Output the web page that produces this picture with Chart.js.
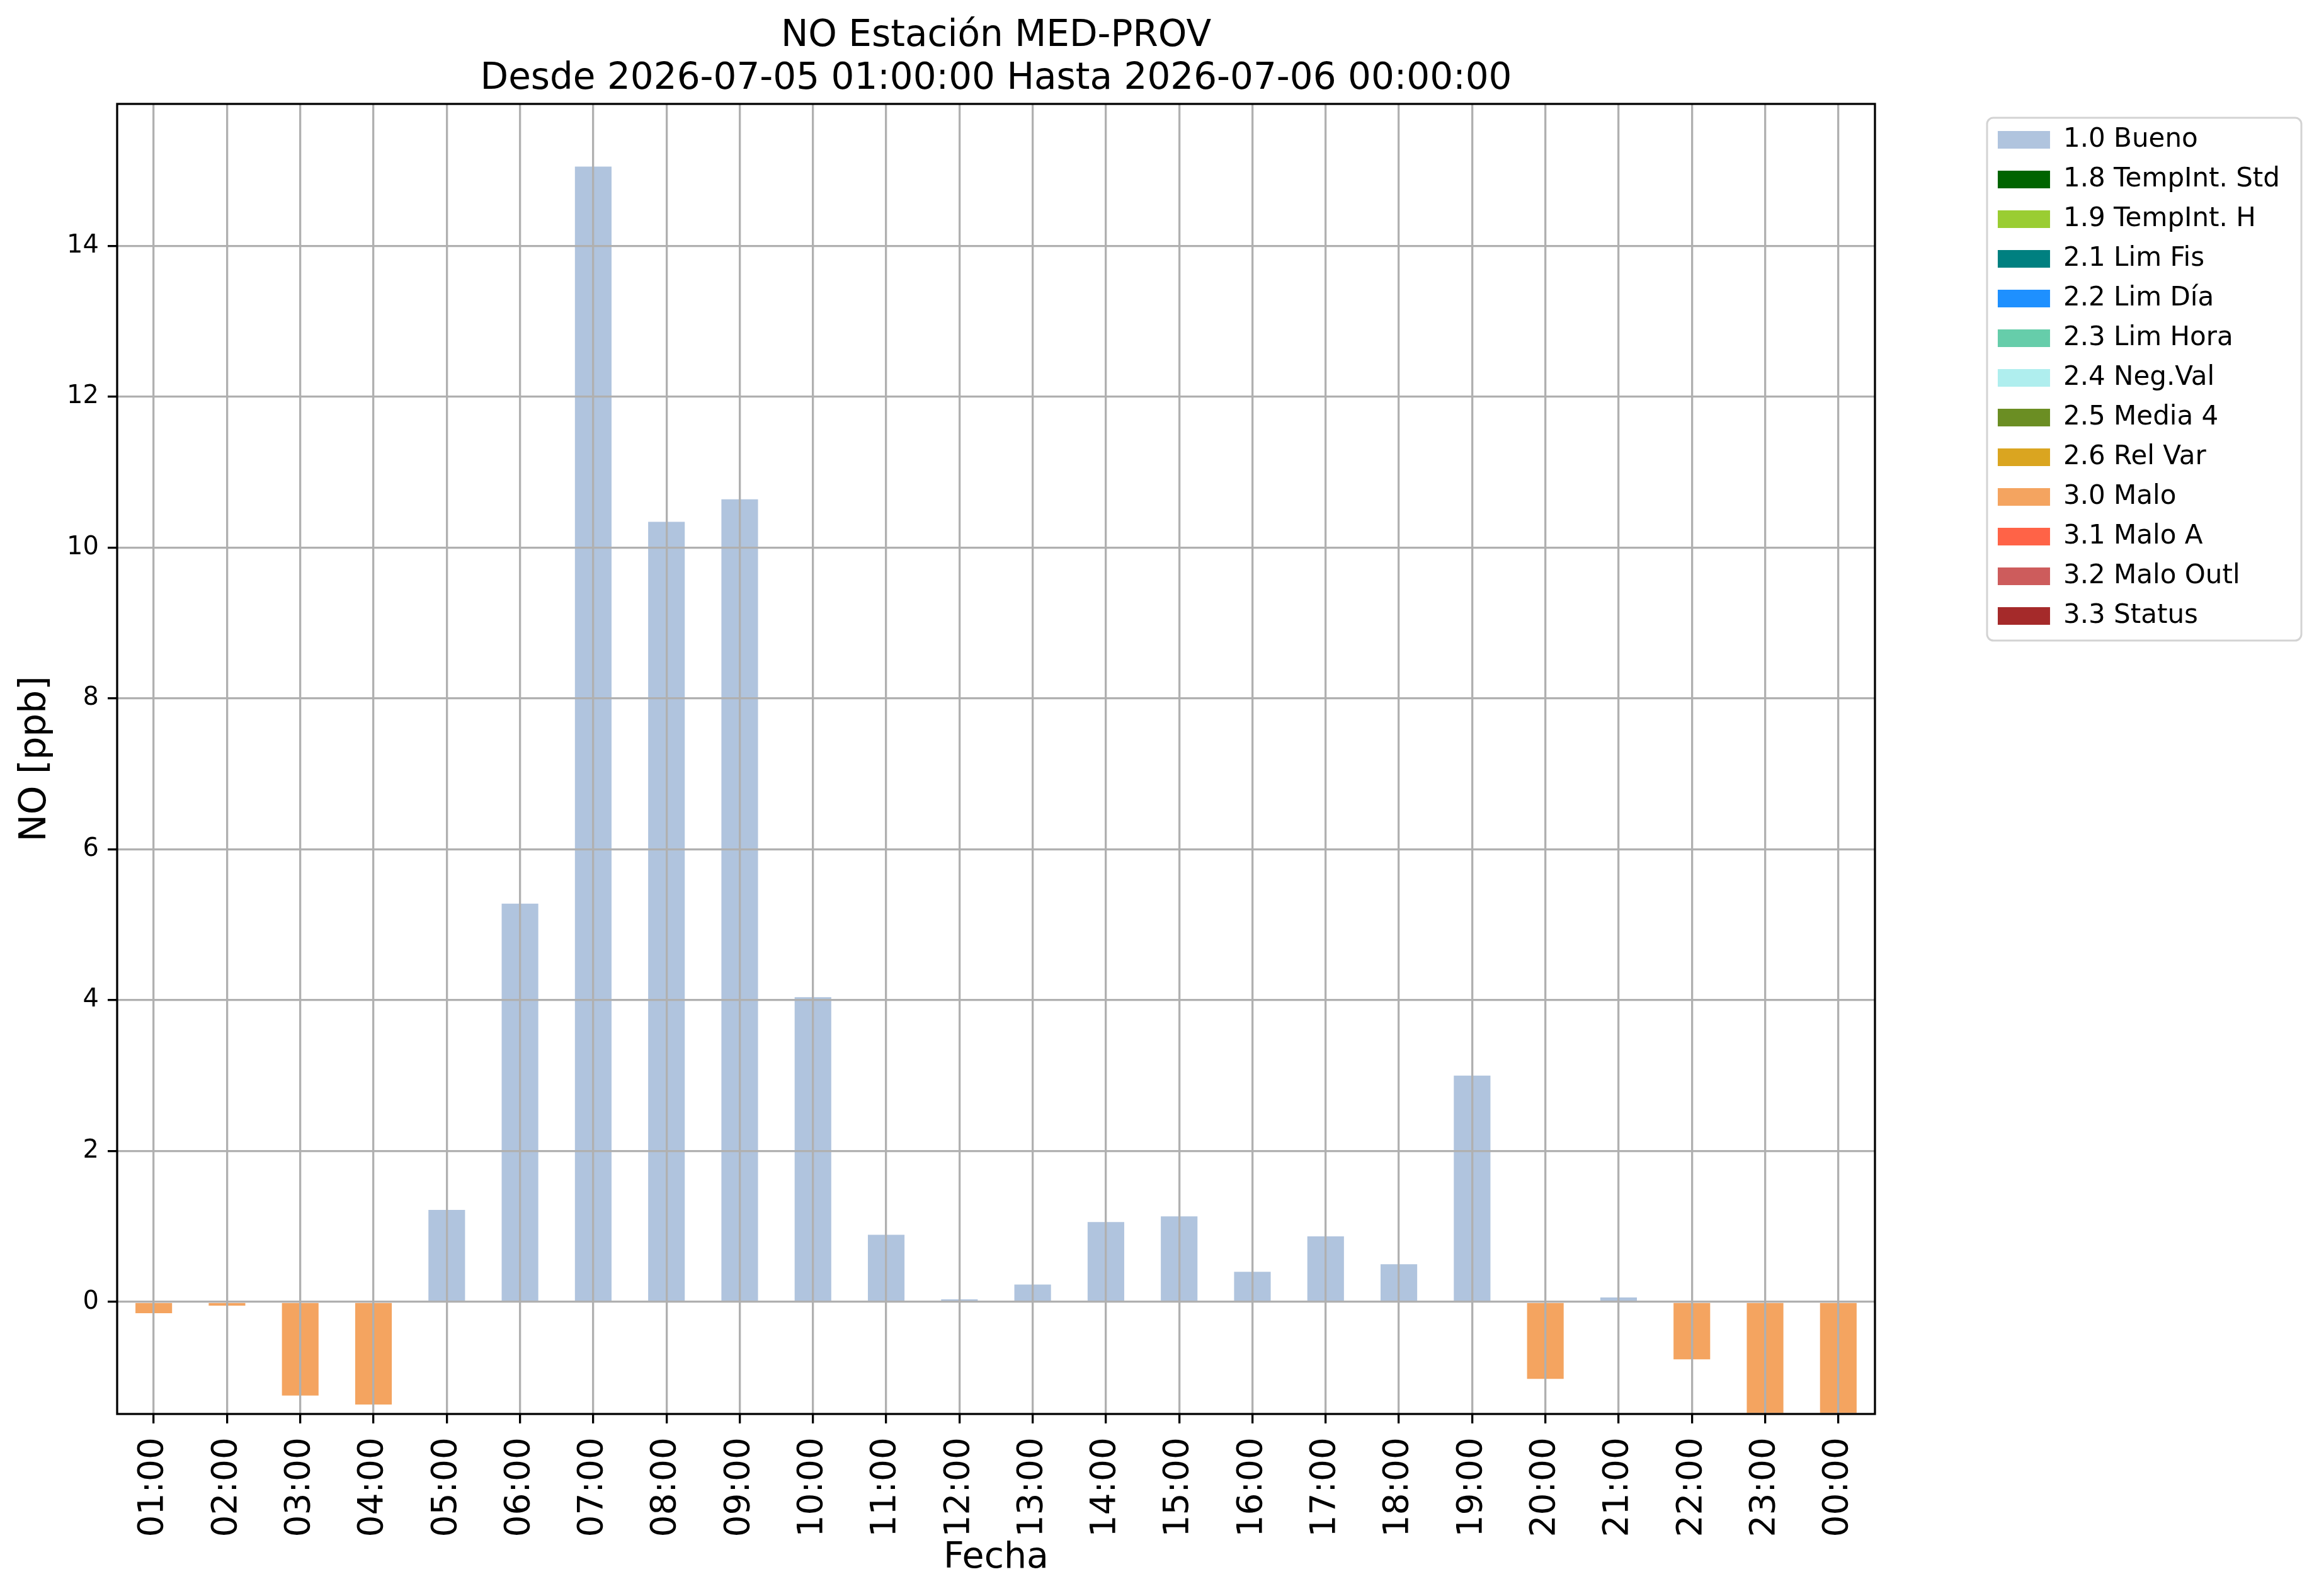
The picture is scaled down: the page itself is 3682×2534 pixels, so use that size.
<!DOCTYPE html>
<html>
<head>
<meta charset="utf-8">
<title>NO Estación MED-PROV</title>
<script src="https://cdn.jsdelivr.net/npm/chart.js@4.4.1/dist/chart.umd.min.js"></script>
<style>
  html, body { margin: 0; padding: 0; background: #ffffff; }
  canvas { display: block; }
</style>
</head>
<body>
<canvas id="chart" width="3682" height="2534"></canvas>
<script>
// Hourly NO values, split by validation flag (only "Bueno" and "Malo" carry data).
var hours = ["01:00", "02:00", "03:00", "04:00", "05:00", "06:00", "07:00", "08:00",
  "09:00", "10:00", "11:00", "12:00", "13:00", "14:00", "15:00", "16:00",
  "17:00", "18:00", "19:00", "20:00", "21:00", "22:00", "23:00", "00:00"];

var bueno = [null, null, null, null, 1.22, 5.28, 15.05, 10.34,
  10.64, 4.04, 0.89, 0.035, 0.23, 1.06, 1.135, 0.40,
  0.87, 0.50, 3.00, null, 0.06, null, null, null];

var malo = [-0.15, -0.05, -1.24, -1.36, null, null, null, null,
  null, null, null, null, null, null, null, null,
  null, null, null, -1.02, null, -0.76, -1.47, -1.47];

var flagLabels = ["1.0 Bueno", "1.8 TempInt. Std", "1.9 TempInt. H", "2.1 Lim Fis",
  "2.2 Lim Día", "2.3 Lim Hora", "2.4 Neg.Val", "2.5 Media 4", "2.6 Rel Var",
  "3.0 Malo", "3.1 Malo A", "3.2 Malo Outl", "3.3 Status"];

var flagColors = ["#b0c4de", "#006400", "#9acd32", "#008080", "#1e90ff", "#66cdaa",
  "#afeeee", "#6b8e23", "#daa520", "#f4a460", "#ff6347", "#cd5c5c", "#a52a2a"];

var seriesByFlag = { "1.0 Bueno": bueno, "3.0 Malo": malo };

var yMin = -1.485;
var yMax = 15.88;
var yStep = 2;

(function () {
  "use strict";

  var FONT = "'DejaVu Sans', 'Liberation Sans', sans-serif";
  var GRID = "#b0b0b0";

  // Top/right spines plus the rounded legend frame, drawn last.
  var framePlugin = {
    id: "frame",
    afterDraw: function (chart) {
      var ctx = chart.ctx;
      var a = chart.chartArea;
      ctx.save();
      ctx.strokeStyle = "#000000";
      ctx.lineWidth = 3.3;
      ctx.strokeRect(a.left, a.top, a.right - a.left, a.bottom - a.top);

      var boxes = chart.legend && chart.legend.legendHitBoxes;
      if (boxes && boxes.length) {
        var l = Infinity, t = Infinity, r = -Infinity, b = -Infinity;
        boxes.forEach(function (h) {
          l = Math.min(l, h.left);
          t = Math.min(t, h.top);
          r = Math.max(r, h.left + h.width);
          b = Math.max(b, h.top + h.height);
        });
        l -= 17; t -= 14; r += 34; b += 18;
        var rad = 10;
        ctx.beginPath();
        ctx.moveTo(l + rad, t);
        ctx.arcTo(r, t, r, b, rad);
        ctx.arcTo(r, b, l, b, rad);
        ctx.arcTo(l, b, l, t, rad);
        ctx.arcTo(l, t, r, t, rad);
        ctx.closePath();
        ctx.strokeStyle = "#d3d3d3";
        ctx.lineWidth = 3;
        ctx.stroke();
      }
      ctx.restore();
    },
  };

  var datasets = flagLabels.map(function (label, i) {
    return {
      label: label,
      data: seriesByFlag[label] || [],
      backgroundColor: flagColors[i],
      borderWidth: 0,
      grouped: false,
      barPercentage: 0.5,
      categoryPercentage: 1.0,
      xAxisID: "x",
      yAxisID: "y",
    };
  });

  new Chart(document.getElementById("chart"), {
    type: "bar",
    data: { labels: hours, datasets: datasets },
    plugins: [framePlugin],
    options: {
      responsive: false,
      devicePixelRatio: 1,
      animation: false,
      events: [],
      layout: { padding: { left: 0, right: 52, top: 0, bottom: 0 } },
      plugins: {
        title: {
          display: true,
          fullSize: false,
          text: ["NO Estación MED-PROV", "Desde 2026-07-05 01:00:00 Hasta 2026-07-06 00:00:00"],
          color: "#000000",
          font: { family: FONT, size: 58, weight: "normal", lineHeight: 68 / 58 },
          padding: { top: 24, bottom: 5 },
        },
        legend: {
          display: true,
          position: "right",
          align: "start",
          fullSize: false,
          title: { display: true, text: " ", font: { size: 12, lineHeight: 1.25 }, padding: 0 },
          labels: {
            boxWidth: 83,
            boxHeight: 28,
            padding: 21,
            color: "#000000",
            font: { family: FONT, size: 42 },
          },
        },
        tooltip: { enabled: false },
      },
      scales: {
        x: {
          type: "category",
          offset: true,
          grid: {
            display: true,
            offset: false,
            color: GRID,
            lineWidth: 3.3,
            z: 1,
            drawTicks: true,
            tickLength: 15,
            tickColor: "#000000",
            tickWidth: 3.3,
          },
          border: { display: false },
          ticks: {
            autoSkip: false,
            maxRotation: 90,
            minRotation: 90,
            padding: 22,
            color: "#000000",
            font: { family: FONT, size: 55 },
          },
          title: {
            display: true,
            text: "Fecha",
            color: "#000000",
            font: { family: FONT, size: 57 },
            padding: { top: 0, bottom: 26 },
          },
          afterFit: function (scale) { scale.height = 289; },
        },
        y: {
          type: "linear",
          position: "left",
          min: yMin,
          max: yMax,
          grid: {
            color: GRID,
            lineWidth: 3.3,
            z: 1,
            tickLength: 15,
            tickColor: "#000000",
            tickWidth: 3.3,
          },
          border: { display: false },
          ticks: {
            stepSize: yStep,
            includeBounds: false,
            padding: 14,
            color: "#000000",
            font: { family: FONT, size: 40 },
          },
          title: {
            display: true,
            text: "NO [ppb]",
            color: "#000000",
            font: { family: FONT, size: 58 },
            padding: { top: 22, bottom: 0 },
          },
          afterFit: function (scale) { scale.width = 186; },
        },
        // Empty right-hand axis: only holds the gap between plot and legend.
        gap: {
          type: "linear",
          position: "right",
          display: true,
          grid: { display: false },
          border: { display: false },
          ticks: { display: false },
          afterFit: function (scale) { scale.width = 174; },
        },
      },
    },
  });
})();
</script>
</body>
</html>
